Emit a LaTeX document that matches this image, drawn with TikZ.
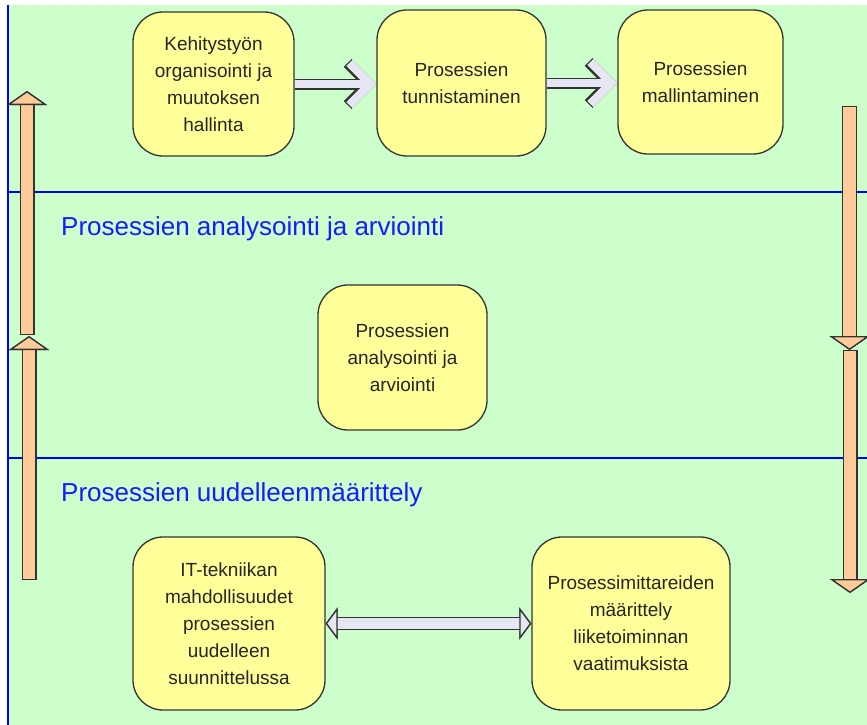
\documentclass[tikz,border=0pt]{standalone}
\usepackage{fontspec}
\setmainfont{Liberation Sans}
\usetikzlibrary{arrows.meta}
\definecolor{bggreen}{HTML}{CCFFCC}
\definecolor{boxyellow}{HTML}{FFFF99}
\definecolor{arroworange}{HTML}{FFCC99}
\definecolor{arrowgray}{HTML}{E6E6F4}
\definecolor{edgedark}{HTML}{333333}
\definecolor{laneblue}{HTML}{1A1AFF}
\tikzset{phase/.style={draw=edgedark, fill=boxyellow, line width=1.3pt, rounded corners=30pt, align=center, text=black!85, font=\fontsize{19}{27}\selectfont, inner sep=0pt},
lanetitle/.style={anchor=base west, text=laneblue, font=\fontsize{26}{30}\selectfont, inner sep=0pt},
%hollow arrows between the phases
flow/.style={draw=arrowgray, line width=8.5pt, -{Straight Barb[length=21pt,width=42pt]}, preaction={draw=edgedark, line width=11pt, -{Straight Barb[length=21pt,width=42pt]}}},
both/.style={draw=arrowgray, line width=10.4pt, shorten <=0pt, {Triangle[length=12pt,width=32pt,fill=arrowgray,color=edgedark,line width=1.3pt]}-{Triangle[length=12pt,width=32pt,fill=arrowgray,color=edgedark,line width=1.3pt]}, preaction={draw=edgedark, line width=13pt}},
cycle/.style={draw=arroworange, line width=12.4pt, shorten <=1.3pt, -{Triangle[length=14pt,width=40pt,fill=arroworange,color=edgedark,line width=1.3pt]}, preaction={draw=edgedark, line width=15pt, shorten <=0pt}}}

\begin{document}
\begin{tikzpicture}[x=1pt,y=-1pt]
\useasboundingbox (0,0) rectangle (867,725);
\fill[bggreen] (8,5) rectangle (867,725);
% lanes
\draw[blue, line width=1.5pt] (8,5) -- (8,725);
\draw[blue, line width=1.5pt] (8,192) -- (867,192);
\draw[blue, line width=1.5pt] (8,458) -- (867,458);

\node[lanetitle] (t2) at (61,235) {Prosessien analysointi ja arviointi};
\node[lanetitle] (t3) at (61,501) {Prosessien uudelleenmäärittely};

% phases
\node[phase, minimum width=161pt, minimum height=144pt] (kehitys) at (213.5,84) {Kehitystyön\\organisointi ja\\muutoksen\\hallinta};
\node[phase, minimum width=169pt, minimum height=146pt] (tunnistus) at (461.5,83) {Prosessien\\tunnistaminen};
\node[phase, minimum width=165pt, minimum height=144pt] (mallinnus) at (700.5,82) {Prosessien\\mallintaminen};
\node[phase, minimum width=169pt, minimum height=145pt] (analyysi) at (402.5,357.5) {Prosessien\\analysointi ja\\arviointi};
\node[phase, minimum width=192pt, minimum height=173pt] (itmahd) at (229,623.5) {IT-tekniikan\\mahdollisuudet\\prosessien\\uudelleen\\suunnittelussa};
\node[phase, minimum width=198pt, minimum height=173pt] (mittarit) at (631,623.5) {Prosessimittareiden\\määrittely\\liiketoiminnan\\vaatimuksista};

\draw[flow] (kehitys.east) -- (tunnistus.west |- kehitys.east);
\draw[flow] (tunnistus.east) -- (mallinnus.west |- tunnistus.east);
\draw[both] (itmahd.east) -- (mittarit.west);

% cycle arrows
\coordinate (l1) at (27,335); \coordinate (l1tip) at (27,91);
\coordinate (l2) at (29,580); \coordinate (l2tip) at (29,336);
\coordinate (r1) at (849.5,106); \coordinate (r1tip) at (849.5,350);
\coordinate (r2) at (850,350); \coordinate (r2tip) at (850,593);
\draw[cycle] (l2) -- (l2tip);
\draw[cycle] (l1) -- (l1tip);
\draw[cycle] (r2) -- (r2tip);
\draw[cycle] (r1) -- (r1tip);
\end{tikzpicture}
\end{document}
